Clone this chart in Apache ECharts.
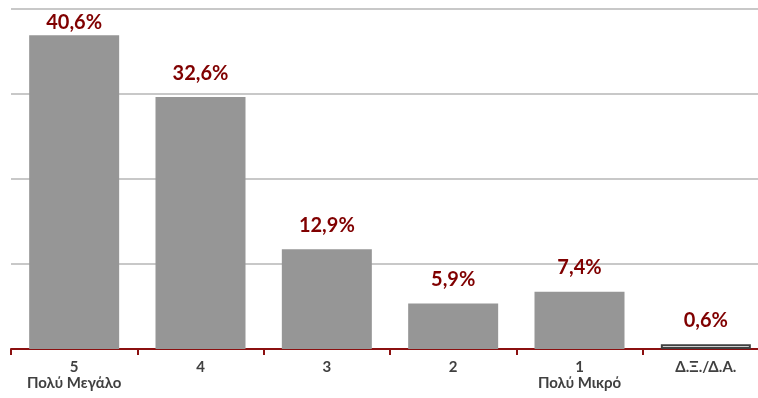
<!DOCTYPE html>
<html>
<head>
<meta charset="utf-8">
<script src="https://cdn.jsdelivr.net/npm/echarts@6/dist/echarts.min.js"></script>
<style>
html,body{margin:0;padding:0;background:#fff;overflow:hidden;width:758px;height:398px;}
#chart{width:780px;height:398px;}
</style>
</head>
<body>
<div id="chart"></div>
<script>
var categories = ['5\nΠολύ Μεγάλο', '4', '3', '2', '1\nΠολύ Μικρό', 'Δ.Ξ./Δ.Α.'];
var values = [40.6, 32.6, 12.9, 5.9, 7.4, 0.6];
var labels = ['40,6%', '32,6%', '12,9%', '5,9%', '7,4%', '0,6%'];

var data = values.map(function (v, i) {
  var item = { value: v };
  if (i === values.length - 1) {
    item.itemStyle = { color: '#ffffff', borderColor: '#404040', borderWidth: 2 };
  }
  if (i === 0) {
    item.label = { distance: 3 };
  }
  return item;
});

var chart = echarts.init(document.getElementById('chart'));
chart.setOption({
  animation: false,
  grid: { left: 11, right: 11, top: 9, bottom: 49 },
  xAxis: {
    type: 'category',
    data: categories,
    axisLine: { lineStyle: { color: '#8b1010', width: 2 } },
    axisTick: { show: true, length: 6, lineStyle: { color: '#8b1010', width: 2 } },
    axisLabel: {
      color: '#404040', fontFamily: 'Lato', fontWeight: 'bold', fontSize: 15,
      lineHeight: 16, margin: 10, interval: 0
    }
  },
  yAxis: {
    type: 'value', min: 0, max: 44, interval: 11,
    axisLabel: { show: false },
    axisLine: { show: false },
    axisTick: { show: false },
    splitLine: { lineStyle: { color: '#c8c8c8', width: 2 } }
  },
  series: [{
    type: 'bar',
    data: data,
    barWidth: 90,
    itemStyle: { color: '#969696' },
    label: {
      show: true, position: 'top', distance: 14,
      color: '#800000', fontFamily: 'Lato', fontWeight: 'bold', fontSize: 20,
      formatter: function (p) { return labels[p.dataIndex]; }
    }
  }]
});
</script>
</body>
</html>
